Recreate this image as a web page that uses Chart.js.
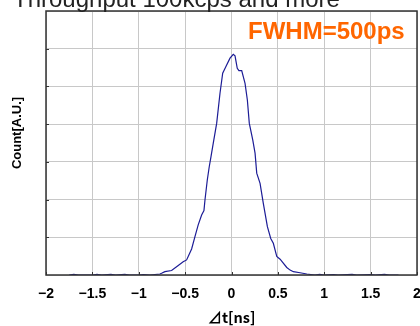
<!DOCTYPE html>
<html>
<head>
<meta charset="utf-8">
<script src="https://cdn.jsdelivr.net/npm/chart.js@4.4.1/dist/chart.umd.min.js"></script>
<style>
  html, body { margin: 0; padding: 0; background: #fff; }
  #wrap { position: relative; width: 420px; height: 326px; }
</style>
</head>
<body>
<div id="wrap"><canvas id="fwhmChart" width="420" height="326"></canvas></div>
<script>
// Δt in ns and counts (arbitrary units)
const timeNs = [
  -1.75, -1.7, -1.65, -1.5, -1.45, -1.4, -1.3, -1.25, -1.15, -1.1, -1.0, -0.95, -0.88,
  -0.772, -0.754, -0.718, -0.646, -0.592, -0.521, -0.484, -0.467, -0.43, -0.394, -0.359,
  -0.322, -0.297, -0.286, -0.261, -0.24, -0.221, -0.197, -0.16, -0.124, -0.095, -0.06,
  -0.016, 0.019, 0.038, 0.062, 0.08, 0.11, 0.146, 0.171, 0.192, 0.229, 0.254, 0.272,
  0.308, 0.343, 0.387, 0.423, 0.451, 0.488, 0.524, 0.596, 0.632, 0.667, 0.739, 0.812,
  0.9, 0.95, 1.0, 1.1, 1.15, 1.3, 1.35, 1.5, 1.55, 1.65, 1.7, 1.8
];
const counts = [
  0, 0.02, 0, 0, 0.015, 0, 0.02, 0, 0.015, 0, 0, 0.01, 0,
  0.027, 0.045, 0.088, 0.12, 0.22, 0.35, 0.40, 0.49, 0.69, 1.02, 1.33,
  1.59, 1.71, 1.99, 2.52, 2.87, 3.14, 3.49, 4.02, 4.82, 5.35, 5.53,
  5.75, 5.85, 5.81, 5.48, 5.42, 5.42, 5.08, 4.64, 4.02, 3.58, 3.23, 2.70,
  2.43, 1.90, 1.28, 0.97, 0.84, 0.49, 0.42, 0.20, 0.13, 0.088, 0.06, 0.027,
  0, 0.015, 0, 0.01, 0, 0.02, 0, 0.01, 0, 0.02, 0, 0
];
const xTicks = [-2, -1.5, -1, -0.5, 0, 0.5, 1, 1.5, 2];
const headerText = 'Throughput 100kcps and more';
const fwhmText = 'FWHM=500ps';
const yTitle = 'Count[A.U.]';

const labelFont = { family: '"Liberation Sans", "Noto Sans CJK JP", sans-serif', size: 14, weight: 'bold' };

const frame = {
  id: 'frame',
  afterDraw(chart) {
    const { ctx, chartArea: a, scales } = chart;
    ctx.save();
    // inside tick marks
    ctx.strokeStyle = '#333';
    ctx.lineWidth = 1;
    xTicks.forEach(v => {
      const px = Math.round(scales.x.getPixelForValue(v)) + 0.5;
      ctx.beginPath(); ctx.moveTo(px, a.bottom); ctx.lineTo(px, a.bottom - 3); ctx.stroke();
    });
    for (let v = 1; v < 7; v++) {
      const py = Math.round(scales.y.getPixelForValue(v)) + 0.5;
      ctx.beginPath(); ctx.moveTo(a.left, py); ctx.lineTo(a.left + 3, py); ctx.stroke();
    }
    // plot frame
    ctx.lineWidth = 1.5;
    ctx.strokeRect(a.left, a.top, a.right - a.left, a.bottom - a.top);
    // y title, sits a little above the middle like the original
    ctx.fillStyle = '#000';
    ctx.font = 'bold 13px "Liberation Sans", sans-serif';
    ctx.textAlign = 'center';
    ctx.textBaseline = 'middle';
    ctx.translate(17, 133);
    ctx.rotate(-Math.PI / 2);
    ctx.fillText(yTitle, 0, 0);
    ctx.setTransform(1, 0, 0, 1, 0, 0);
    // header (cropped at top) and FWHM note
    ctx.fillStyle = '#222';
    ctx.font = '24px "Liberation Sans", Arial, sans-serif';
    ctx.textBaseline = 'alphabetic';
    ctx.textAlign = 'left';
    ctx.fillText(headerText, 13, 7);
    ctx.fillStyle = '#ff6600';
    ctx.font = 'bold 24px "Liberation Sans", Arial, sans-serif';
    ctx.fillText(fwhmText, 248, 39);
    ctx.restore();
  }
};

new Chart(document.getElementById('fwhmChart').getContext('2d'), {
  type: 'line',
  data: {
    datasets: [{
      data: timeNs.map((t, i) => ({ x: t, y: counts[i] })),
      borderColor: '#1c1c96',
      borderWidth: 1.2,
      pointRadius: 0,
      tension: 0,
      fill: false
    }]
  },
  options: {
    responsive: false,
    animation: false,
    layout: { padding: { top: 11, right: 3, left: 0, bottom: 0 } },
    plugins: { legend: { display: false }, tooltip: { enabled: false } },
    scales: {
      x: {
        type: 'linear',
        min: -2,
        max: 2,
        afterBuildTicks: scale => { scale.ticks = xTicks.map(v => ({ value: v })); },
        afterFit: scale => { scale.height = 51; scale.paddingLeft = 0; scale.paddingRight = 0; },
        grid: { color: '#c8c8c8', lineWidth: 1, drawTicks: false },
        border: { display: false },
        ticks: {
          padding: 11,
          color: '#000',
          font: labelFont,
          maxRotation: 0,
          callback: v => String(v).replace('-', '\u2212')
        },
        title: {
          display: true,
          text: '⊿t[ns]',
          color: '#000',
          font: { family: '"Noto Sans CJK JP", "DejaVu Sans", sans-serif', size: 14.5, weight: 'bold' },
          padding: { top: 0, bottom: 0 }
        }
      },
      y: {
        min: 0,
        max: 7,
        afterFit: scale => { scale.width = 46; },
        grid: { color: '#c8c8c8', lineWidth: 1, drawTicks: false },
        border: { display: false },
        ticks: { stepSize: 1, display: false }
      }
    }
  },
  plugins: [frame]
});
</script>
</body>
</html>
